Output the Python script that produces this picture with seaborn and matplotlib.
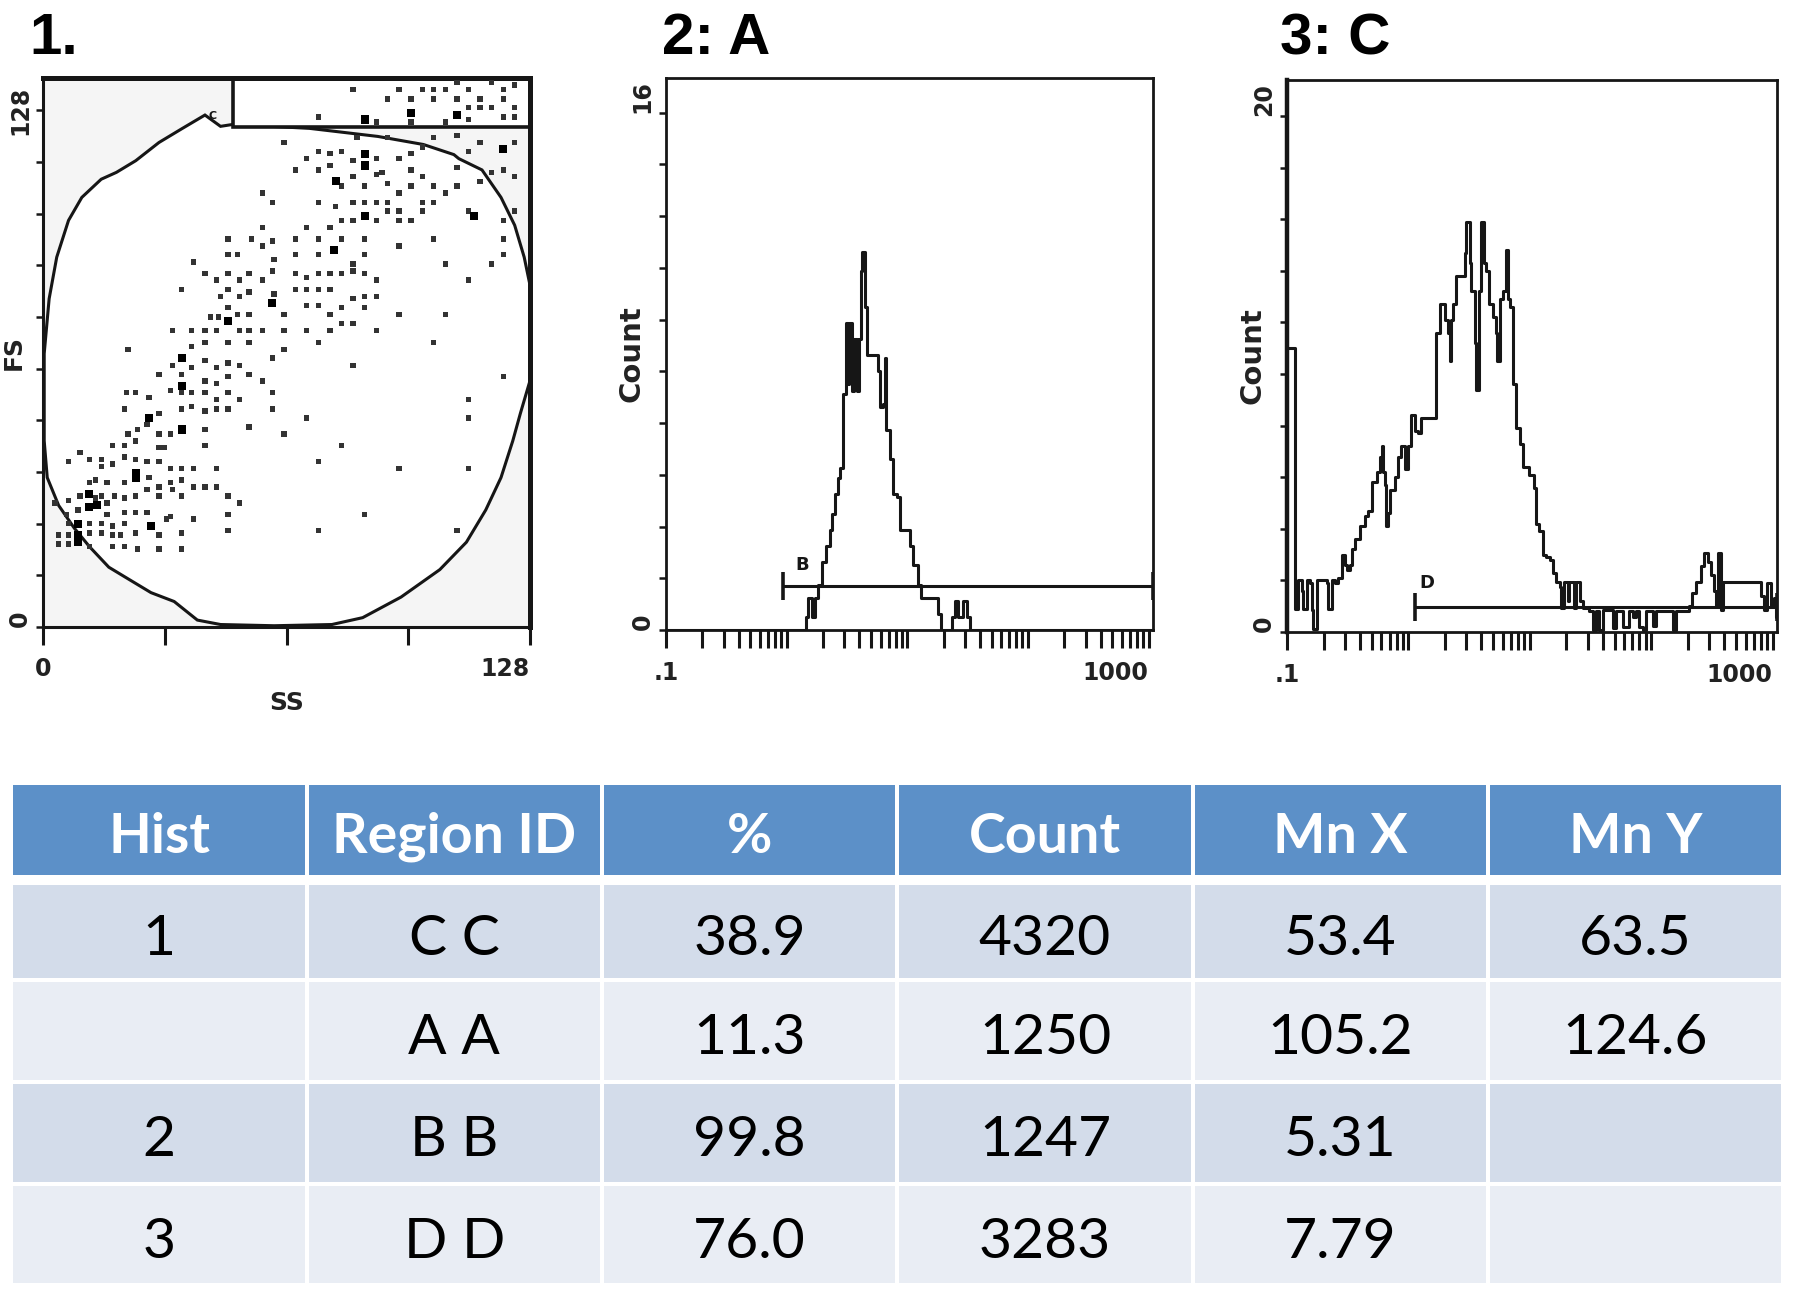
import numpy as np
import matplotlib
matplotlib.use("Agg")
import matplotlib.pyplot as plt
import seaborn as sns
from matplotlib.patches import Polygon, Rectangle
from matplotlib.ticker import FixedLocator, LogLocator, NullFormatter

# ---------------- data ----------------
titles = ["1.", "2: A", "3: C"]

# Panel 1: FS vs SS dot plot
gate_c_ss = [42.5, 46.6, 50, 70, 88, 100, 108, 109.3, 115.4, 120.4, 124.0, 126.5, 128, 128, 125.5,
             123.5, 120.4, 116.4, 111.3, 104.3, 94.1, 84.0, 75.9, 60.7, 46.6, 40.5, 34.4, 28.3,
             22.3, 17.2, 12.1, 8.1, 4.0, 1.0, 0.2, 0.2, 1.5, 3.5, 6.6, 10.1, 15.2, 19.2, 24.3,
             30.4, 36.4]
gate_c_fs = [126.8, 124.0, 124.5, 123.5, 121.5, 119.5, 117.0, 116.0, 113.2, 106.4, 99.5, 91.6, 84.8,
             60.9, 52.9, 46.1, 37.0, 29.0, 21.0, 14.2, 7.4, 2.3, 0.6, 0.3, 0.6, 1.7, 6.3, 8.5,
             11.9, 14.8, 19.9, 24.5, 30.1, 37.0, 46.1, 67.7, 81.3, 91.6, 100.7, 106.4, 110.9,
             112.6, 115.5, 120.0, 123.4]
gate_a_ss = [50.0, 128.0]
gate_a_fs = [123.8, 136.0]

small_ss = [81.5, 90.6, 93.6, 96.7, 99.7, 102.7, 102.7, 105.8, 108.8, 108.8, 111.8, 111.8, 114.9,
            114.9, 117.9, 117.9, 121.0, 121.0, 121.0, 124.0, 124.0, 124.0, 72.4, 87.6, 96.7, 105.8,
            111.8, 63.3, 82.5, 90.6, 102.7, 108.8, 114.9, 124.0, 111.8, 69.3, 72.4, 75.4, 78.4,
            81.5, 87.6, 93.6, 96.7, 99.7, 66.3, 72.4, 75.4, 81.5, 87.6, 89.1, 96.7, 99.7, 108.8,
            117.9, 121.0, 124.0, 78.4, 84.5, 90.6, 96.7, 102.7, 108.8, 114.9, 57.7, 60.2, 72.4,
            76.9, 81.5, 84.5, 87.6, 90.6, 93.6, 99.7, 105.8, 90.6, 93.6, 96.7, 99.7, 102.7, 111.8,
            121.0, 124.0, 78.4, 81.5, 87.6, 93.6, 57.7, 69.3, 75.4, 48.6, 54.7, 57.7, 60.2, 66.3,
            72.4, 78.4, 84.5, 93.6, 102.7, 121.0, 48.6, 51.1, 60.7, 66.3, 72.4, 81.5, 84.5, 105.8,
            117.9, 121.0, 39.5, 42.5, 45.5, 48.6, 51.6, 54.1, 57.7, 60.2, 66.3, 69.3, 72.4, 75.4,
            78.4, 81.5, 84.5, 87.6, 111.8, 36.4, 46.6, 48.6, 51.6, 54.1, 60.7, 66.3, 69.3, 72.4,
            75.4, 81.5, 84.5, 87.6, 44.0, 46.1, 48.6, 51.1, 54.1, 63.3, 69.3, 72.4, 75.4, 78.4,
            84.5, 93.6, 105.8, 33.9, 39.0, 42.5, 45.5, 51.6, 54.1, 57.7, 63.3, 69.3, 75.4, 78.4,
            81.5, 87.6, 22.3, 39.0, 42.5, 48.6, 54.1, 60.2, 63.3, 72.4, 102.7, 33.9, 36.4, 39.0,
            42.5, 45.5, 48.6, 51.6, 81.5, 30.4, 42.5, 45.5, 48.6, 54.1, 57.7, 60.2, 121.0, 21.8,
            24.3, 27.8, 33.4, 36.4, 39.0, 42.5, 45.5, 48.6, 51.6, 111.8, 21.3, 30.4, 36.4, 39.0,
            42.5, 45.5, 48.6, 60.2, 69.3, 111.8, 22.3, 24.8, 27.3, 30.4, 33.4, 42.5, 54.1, 63.3,
            18.2, 21.3, 24.3, 30.4, 31.9, 42.5, 78.4, 9.6, 12.1, 15.2, 18.2, 21.3, 24.3, 27.3,
            30.4, 33.4, 36.4, 39.5, 45.5, 72.4, 93.6, 111.8, 6.6, 15.2, 27.8, 33.4, 36.4, 12.1,
            13.7, 16.7, 21.3, 27.3, 30.4, 33.9, 39.5, 42.5, 45.5, 3.0, 6.6, 9.6, 13.7, 15.2, 16.7,
            18.7, 21.3, 24.3, 30.4, 36.4, 48.6, 51.6, 6.1, 9.1, 16.7, 21.3, 24.3, 27.3, 33.4, 39.5,
            48.6, 84.5, 6.6, 12.1, 15.2, 18.2, 21.3, 32.4, 4.0, 6.6, 12.1, 15.2, 18.2, 20.2, 24.3,
            30.4, 36.4, 48.6, 72.4, 108.8, 4.0, 6.6, 12.1, 18.2, 21.3, 24.8, 30.4, 36.4]
small_fs = [133.1, 130.8, 133.1, 130.8, 133.1, 133.1, 130.8, 133.1, 134.8, 130.8, 133.1, 128.6, 130.8,
            128.6, 134.8, 128.6, 133.1, 130.8, 126.3, 134.2, 128.6, 126.3, 126.3, 125.1, 125.1, 125.1,
            125.7, 120.0, 121.2, 121.2, 121.2, 121.7, 120.0, 120.0, 117.7, 116.0, 117.7, 117.2, 117.7,
            115.5, 116.0, 116.0, 117.2, 118.9, 113.2, 113.2, 114.3, 111.5, 112.1, 112.6, 113.2, 111.5, 113.8,
            112.6, 113.2, 111.5, 109.2, 109.2, 109.8, 109.2, 109.2, 109.2, 110.4, 107.5, 105.2, 105.2,
            104.1, 105.2, 105.2, 105.2, 105.2, 107.5, 105.2, 107.5, 103.0, 103.0, 100.7, 103.0, 105.2, 103.0,
            100.7, 103.0, 100.7, 100.7, 100.7, 100.7, 99.0, 99.0, 99.0, 96.1, 96.1, 94.4, 95.6, 96.1,
            96.1, 96.1, 96.1, 94.4, 96.1, 96.1, 92.2, 92.2, 91.0, 92.2, 92.2, 89.9, 92.2, 89.9,
            89.9, 92.2, 90.4, 87.6, 85.9, 87.6, 85.9, 87.6, 85.9, 88.2, 87.6, 86.5, 87.6, 87.6,
            87.6, 88.2, 87.6, 85.9, 85.9, 83.6, 81.9, 83.6, 81.9, 83.0, 82.5, 83.6, 83.6, 83.6,
            83.6, 81.3, 81.9, 81.9, 76.8, 76.8, 79.1, 77.4, 77.4, 77.4, 79.6, 79.6, 77.4, 79.1,
            79.1, 77.4, 77.4, 73.4, 73.4, 73.4, 73.4, 73.4, 73.4, 73.4, 73.4, 73.4, 73.4, 75.1,
            75.1, 73.4, 68.8, 69.4, 70.5, 70.5, 70.5, 66.6, 68.8, 70.5, 70.5, 64.8, 62.6, 64.3,
            66.0, 64.3, 65.4, 64.8, 64.8, 62.6, 60.9, 60.3, 62.0, 62.6, 60.9, 58.0, 62.0, 58.0,
            58.0, 56.9, 58.6, 58.0, 58.0, 58.0, 56.3, 58.0, 56.3, 56.3, 54.0, 52.9, 54.0, 54.6,
            53.5, 54.0, 54.0, 54.0, 51.8, 51.8, 47.8, 48.9, 50.1, 47.8, 47.8, 48.9, 49.5, 47.8,
            44.9, 44.9, 46.1, 44.4, 44.4, 44.9, 44.9, 43.2, 41.5, 41.5, 40.4, 42.1, 41.5, 41.0,
            41.0, 39.2, 39.2, 39.2, 39.2, 41.0, 39.2, 39.2, 41.0, 39.8, 37.0, 35.8, 36.4, 35.8,
            36.4, 35.8, 35.8, 34.1, 34.7, 34.1, 34.7, 34.7, 34.7, 30.7, 31.3, 32.4, 31.9, 32.4, 30.7,
            32.4, 31.9, 32.4, 32.4, 32.4, 32.4, 30.7, 27.9, 29.0, 27.9, 28.4, 28.4, 28.4, 27.3, 26.7,
            27.9, 27.9, 25.6, 25.6, 25.6, 25.0, 25.6, 26.7, 22.8, 22.8, 23.3, 23.3, 22.8, 22.8, 23.3,
            22.8, 23.3, 23.9, 23.9, 23.9, 20.5, 20.5, 19.9, 19.9, 19.9, 19.3, 19.3, 19.3]
big_ss = [96.7, 108.8, 84.5, 121.0, 84.5, 84.5, 76.9, 84.5, 113.4, 76.4, 60.2, 48.6, 36.4, 36.4,
          27.8, 36.4, 24.3, 24.3, 12.1, 12.1, 14.2, 9.1, 28.3, 9.1, 9.1]
big_fs = [127.4, 126.8, 125.7, 118.3, 117.2, 114.3, 110.4, 101.8, 101.8, 93.3, 80.2, 75.7, 66.6, 59.7,
          51.8, 48.9, 38.1, 37.0, 33.0, 29.6, 30.1, 25.6, 25.0, 22.8, 21.0]

# Panel 2: histogram A (step left edges, counts)
hist_a_x = [0.1, 1.45, 1.51, 1.61, 1.71, 1.83, 1.95, 2.14, 2.28, 2.36, 2.51, 2.68, 2.77, 2.95, 3.10,
            3.20, 3.30, 3.45, 3.61, 3.80, 3.95, 4.10, 4.25, 4.45, 4.60, 5.74, 5.93, 6.31, 6.50, 6.65,
            7.18, 7.64, 8.15, 8.68, 10.5, 11.2, 12.3, 13.1, 18.0, 19.2, 23.3, 24.8, 26.4, 29.1, 31.0,
            33.0, 1085]
hist_a_n = [0, 0.4, 1.0, 0.4, 1.0, 1.4, 2.1, 2.6, 3.1, 3.6, 4.2, 4.7, 5.0, 7.3, 9.5,
            7.6, 9.5, 7.4, 9.0, 7.4, 9.0, 11.1, 11.7, 10.0, 8.5, 8.0, 6.9, 7.0, 8.4, 6.2,
            5.3, 4.2, 4.1, 3.1, 2.6, 2.0, 1.4, 1.0, 0.5, 0.0, 0.4, 0.9, 0.4, 0.9, 0.4,
            0.0, 0.0]
region_b_x = [0.94, 1085]
region_b_y = 1.36

# Panel 3: histogram C
hist_c_x = [0.1, 0.1164, 0.124, 0.132, 0.136, 0.145, 0.155, 0.160, 0.164, 0.175, 0.212, 0.219, 0.233,
            0.248, 0.264, 0.282, 0.300, 0.315, 0.330, 0.340, 0.362, 0.398, 0.438, 0.466, 0.497, 0.547,
            0.582, 0.601, 0.620, 0.640, 0.660, 0.681, 0.703, 0.773, 0.822, 0.877, 0.933, 0.995, 1.06,
            1.13, 1.20, 1.28, 1.70, 1.81, 1.99, 2.12, 2.19, 2.26, 2.33, 2.48, 2.91, 3.00, 3.20, 3.30,
            3.52, 3.63, 3.79, 3.99, 4.17, 4.38, 4.61, 4.98, 5.24, 5.37, 5.65, 6.01, 6.41, 6.61, 6.82,
            7.26, 7.74, 8.24, 8.78, 9.95, 10.9, 11.3, 12.0, 12.8, 13.7, 14.6, 15.5, 16.5, 17.6, 18.2,
            19.3, 20.6, 21.2, 23.3, 24.1, 25.7, 27.4, 31.0, 33.0, 35.2, 37.5, 39.9, 48.3, 51.4, 58.3,
            66.2, 70.5, 75.1, 80.0, 85.2, 90.8, 103, 110, 150, 160, 206, 219, 234, 257, 274, 292, 311,
            331, 342, 353, 376, 388, 801, 853, 908, 968, 1031, 1077, 1090]
hist_c_n = [11.0, 0.9, 2.0, 1.6, 0.9, 2.0, 1.9, 0.85, 0.1, 2.0, 1.9, 0.9, 2.0,
            1.9, 2.1, 3.0, 2.6, 2.4, 2.6, 3.2, 3.6, 4.1, 4.5, 4.7, 5.8, 6.2,
            6.8, 7.2, 6.2, 5.7, 4.1, 4.6, 5.5, 6.0, 6.8, 7.2, 6.3, 7.2, 8.4,
            7.8, 7.7, 8.3, 11.6, 12.7, 12.1, 11.6, 10.5, 12.1, 12.7, 13.8, 14.7, 15.9, 14.3, 13.2,
            11.2, 9.4, 13.2, 15.9, 14.3, 14.0, 12.7, 12.2, 11.6, 10.5, 12.9, 13.2, 14.8, 12.9, 12.6,
            9.6, 7.9, 7.3, 6.4, 6.1, 5.6, 4.2, 3.9, 3.0, 2.9, 2.8, 2.3, 1.95, 1.76, 0.93,
            1.95, 1.2, 1.95, 0.93, 1.95, 1.2, 0.93, 0.8, 0.08, 0.8, 0.08, 0.85, 0.15, 0.8, 0.2,
            0.8, 0.6, 0.8, 0.2, 0.08, 0.8, 0.25, 0.8, 0.08, 0.8, 1.0, 1.5, 1.95, 2.55, 3.05, 2.7, 2.2,
            1.6, 1.0, 3.05, 0.85, 1.95, 1.4, 0.85, 1.9, 1.0, 1.3, 0.6, 0.6]
region_d_x = [1.13, 1090]
region_d_y = 0.96

# Table
table_header = ["Hist", "Region ID", "%", "Count", "Mn X", "Mn Y"]
col_hist = ["1", "", "2", "3"]
col_region = ["C C", "A A", "B B", "D D"]
col_pct = [38.9, 11.3, 99.8, 76.0]
col_count = [4320, 1250, 1247, 3283]
col_mnx = ["53.4", "105.2", "5.31", "7.79"]
col_mny = ["63.5", "124.6", "", ""]

# ---------------- style ----------------
sns.set_theme(style="white")
plt.rcParams["font.family"] = ["DejaVu Sans"]
INK = "#161616"
TICKFONT = dict(fontsize=17, fontweight="bold", color="#222222", family="DejaVu Sans")
LABFONT = dict(fontsize=18, fontweight="bold", color="#222222", family="DejaVu Sans")

fig = plt.figure(figsize=(17.95, 12.94), dpi=100)
fig.patch.set_facecolor("white")


def style_axes(ax, spine_w=2.0):
    for s in ax.spines.values():
        s.set_visible(True)
        s.set_color(INK)
        s.set_linewidth(spine_w)
    ax.tick_params(axis="x", which="both", direction="out", length=13, width=2.2,
                   color=INK, pad=9, bottom=True, top=False)
    ax.tick_params(axis="y", which="both", direction="out", length=5, width=1.8,
                   color=INK, pad=3, left=True, right=False)
    ax.grid(False)


# ---------------- panel 1 ----------------
ax1 = fig.add_axes([0.0242, 0.5155, 0.271, 0.4243])
ax1.set_facecolor("#f5f5f5")
ax1.set_xlim(0, 128)
ax1.set_ylim(0, 136)
ax1.add_patch(Polygon(np.column_stack([gate_c_ss, gate_c_fs]), closed=True,
                      facecolor="white", edgecolor=INK, lw=2.2, zorder=1))
ax1.add_patch(Rectangle((gate_a_ss[0], gate_a_fs[0]), gate_a_ss[1] - gate_a_ss[0],
                        gate_a_fs[1] - gate_a_fs[0], facecolor="white", edgecolor=INK,
                        lw=2.6, zorder=1.5))
sns.scatterplot(x=small_ss, y=small_fs, marker="s", s=15, color="#333333",
                edgecolor="none", ax=ax1, zorder=3, legend=False)
sns.scatterplot(x=big_ss, y=big_fs, marker="s", s=34, color="#000000",
                edgecolor="none", ax=ax1, zorder=3, legend=False)
ax1.text(44.5, 126.5, "C", fontsize=8, fontweight="bold", color=INK, ha="center", va="center", zorder=4)
style_axes(ax1, 2.2)
ax1.spines["top"].set_linewidth(3.6)
ax1.spines["right"].set_linewidth(3.6)
ax1.xaxis.set_major_locator(FixedLocator([0, 128]))
ax1.xaxis.set_minor_locator(FixedLocator([32, 64, 96]))
ax1.set_xticklabels(["0", "128"], **TICKFONT)
ax1.yaxis.set_major_locator(FixedLocator([0, 128]))
ax1.yaxis.set_minor_locator(FixedLocator([12.8 * k for k in range(1, 10)]))
ax1.set_yticklabels(["0", "128"], rotation=90, **TICKFONT)
ax1.get_xticklabels()[1].set_ha("right")
ax1.get_yticklabels()[0].set_va("bottom")
ax1.get_yticklabels()[1].set_va("center")
ax1.set_xlabel("SS", **LABFONT)
ax1.set_ylabel("FS", **LABFONT)
ax1.xaxis.set_label_coords(0.5, -0.117)
ax1.yaxis.set_label_coords(-0.036, 0.5)


def hist_panel(rect, xs, ns, ymax, ystep, ytop_label, reg_x, reg_y, reg_label, label_xy):
    ax = fig.add_axes(rect)
    ax.set_facecolor("white")
    ax.set_xscale("log")
    ax.set_xlim(0.1, reg_x[1])
    ax.set_ylim(0, ymax)
    sns.lineplot(x=xs, y=ns, drawstyle="steps-post", estimator=None, sort=False,
                 color=INK, lw=2.2, ax=ax, zorder=3)
    ax.hlines(reg_y, reg_x[0], reg_x[1], color=INK, lw=2.2, zorder=4)
    ax.vlines([reg_x[0], reg_x[1]], reg_y - 0.025 * ymax, reg_y + 0.025 * ymax,
              color=INK, lw=2.6, zorder=4)
    ax.text(label_xy[0], label_xy[1], reg_label, fontsize=13, fontweight="bold",
            color=INK, ha="center", va="center")
    style_axes(ax, 2.0)
    ax.xaxis.set_major_locator(FixedLocator([0.1, 1000]))
    ax.xaxis.set_minor_locator(LogLocator(base=10, subs=np.arange(1, 10), numticks=60))
    ax.xaxis.set_minor_formatter(NullFormatter())
    ax.set_xticklabels([".1", "1000"], **TICKFONT)
    ax.get_xticklabels()[1].set_ha("right")
    ax.yaxis.set_major_locator(FixedLocator([0, ytop_label]))
    ax.yaxis.set_minor_locator(FixedLocator([ystep * k for k in range(1, 10)]))
    ax.set_yticklabels(["0", str(ytop_label)], rotation=90, **TICKFONT)
    for t in ax.get_yticklabels():
        t.set_va("bottom")
    ax.set_xlabel("")
    ax.set_ylabel("Count", fontsize=21, fontweight="bold", color="#222222", family="DejaVu Sans")
    ax.yaxis.set_label_coords(-0.042, 0.5)
    return ax


ax2 = hist_panel([0.371, 0.5131, 0.2713, 0.4266], hist_a_x, hist_a_n, 17.07, 1.6, 16,
                 region_b_x, region_b_y, "B", (1.35, 2.0))
ax3 = hist_panel([0.717, 0.5116, 0.273, 0.4266], hist_c_x, hist_c_n, 21.4, 2.0, 20,
                 region_d_x, region_d_y, "D", (1.41, 1.9))
ax3.spines["left"].set_linewidth(3.2)

# titles
for xpos, t in zip([0.0161, 0.369, 0.713], titles):
    fig.text(xpos, 0.958, t, fontsize=42, fontweight="bold", family="Liberation Sans",
             color="#000000", va="baseline", ha="left")

# ---------------- table ----------------
axt = fig.add_axes([0.0064, 0.0085, 0.987, 0.3849])
axt.set_xlim(0, 6)
axt.set_ylim(0, 498)
axt.axis("off")
HEAD_C = "#5C90C8"
ROW_C = ["#D3DCEA", "#E9EDF4"]
gx = 0.0068
head_box = (408, 498)
row_boxes = [(305, 398), (203, 301), (101, 199), (0, 97)]
for c, name in enumerate(table_header):
    axt.add_patch(Rectangle((c + gx, head_box[0]), 1 - 2 * gx, head_box[1] - head_box[0],
                            facecolor=HEAD_C, edgecolor="none"))
    axt.text(c + 0.5, sum(head_box) / 2 - 7, name, fontsize=40, fontweight="bold", color="white",
             family="Lato", ha="center", va="center")
body = [col_hist, col_region, [f"{v:.1f}" for v in col_pct], [str(v) for v in col_count],
        col_mnx, col_mny]
for r, (y0, y1) in enumerate(row_boxes):
    for c in range(6):
        axt.add_patch(Rectangle((c + gx, y0), 1 - 2 * gx, y1 - y0,
                                facecolor=ROW_C[r % 2], edgecolor="none"))
        txt = body[c][r]
        if txt:
            axt.text(c + 0.5, (y0 + y1) / 2 - 8, txt, fontsize=41, color="#000000",
                     family="Lato", ha="center", va="center")

fig.savefig("out.png", dpi=100, facecolor="white")
